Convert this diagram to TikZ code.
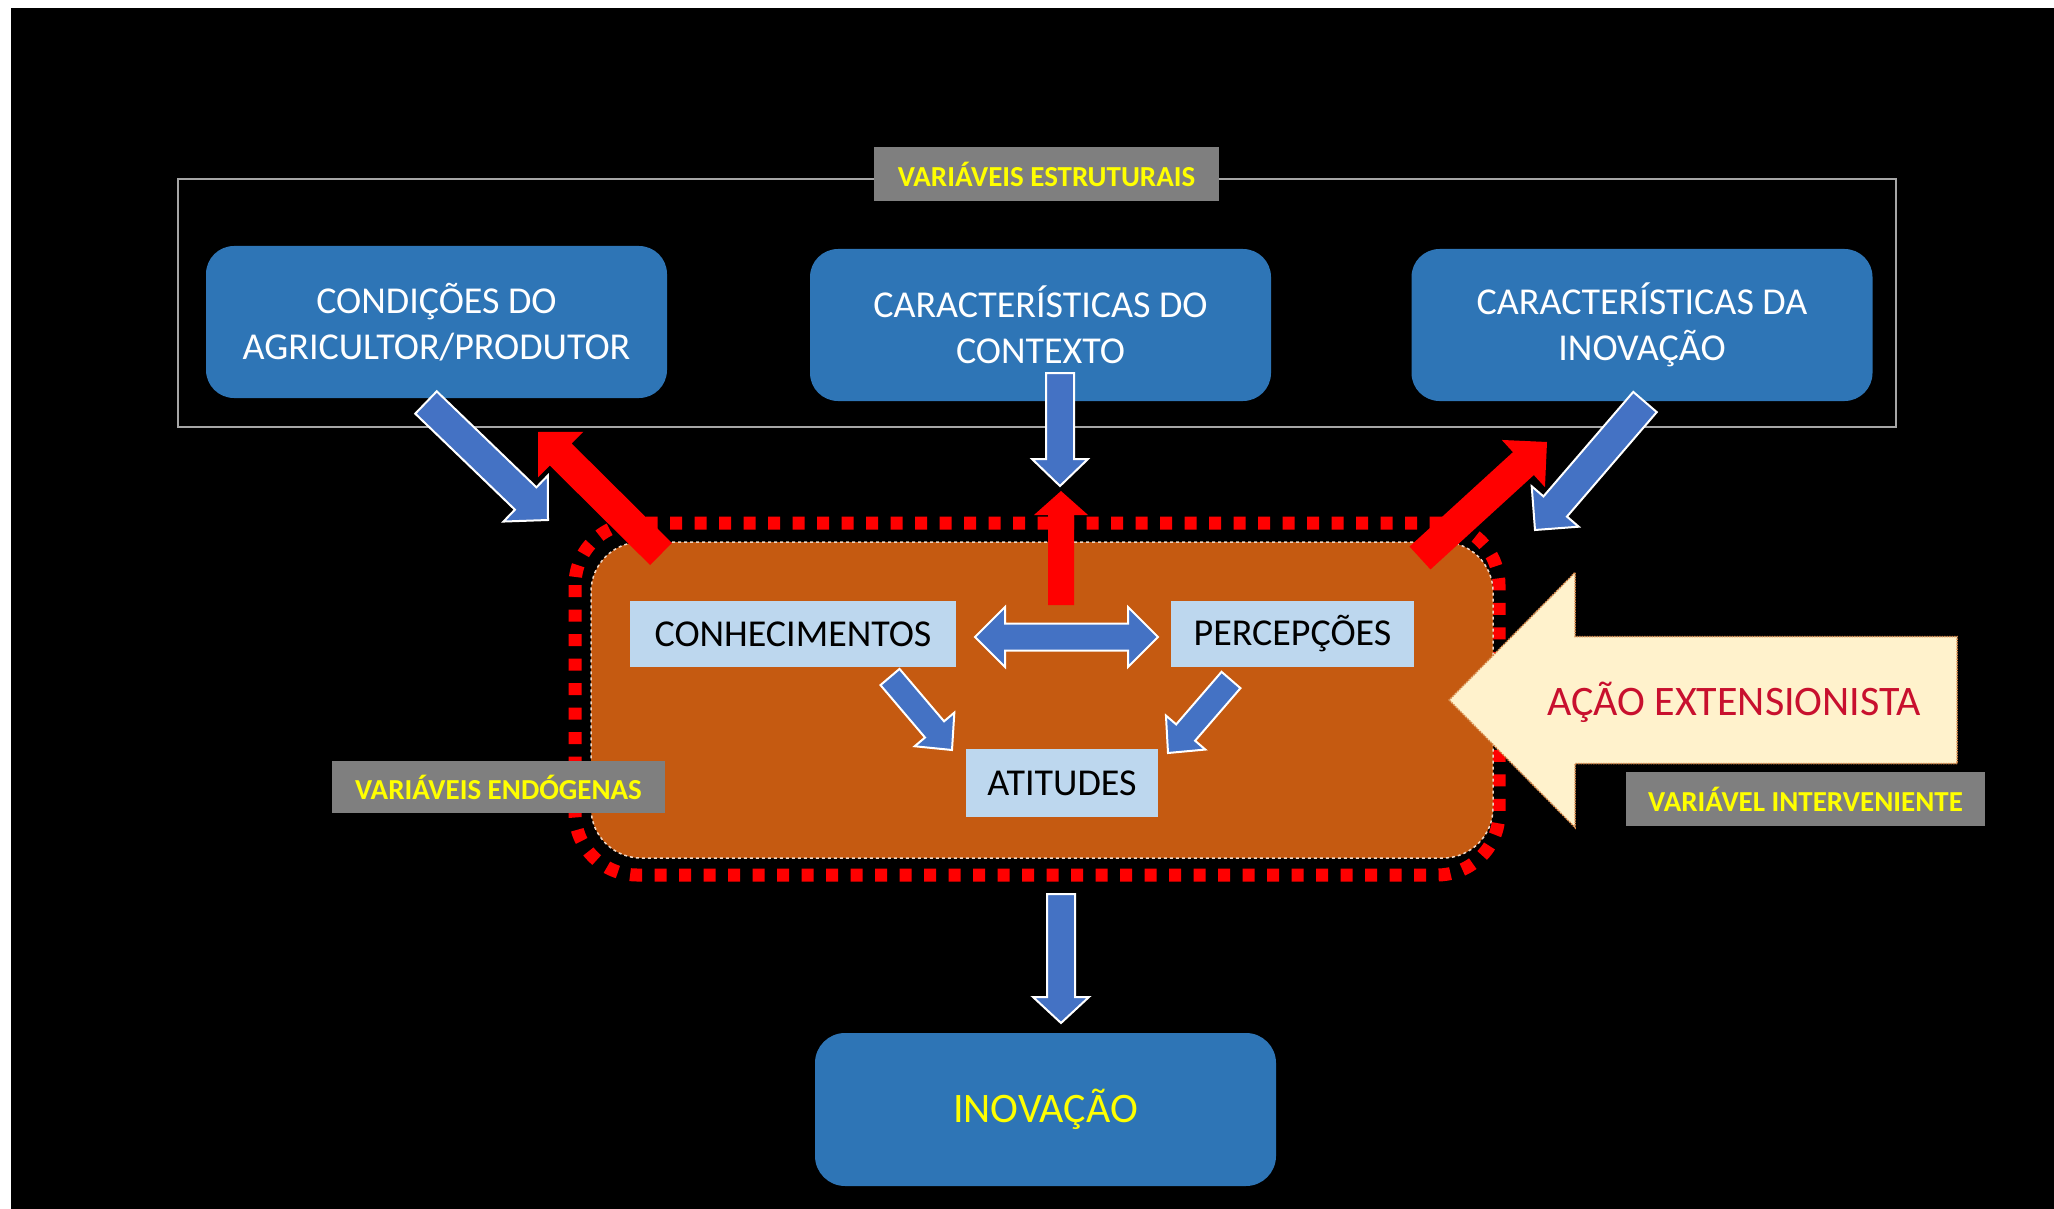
\documentclass[tikz,border=0pt]{standalone}
\usepackage{fontspec}
\setmainfont{Carlito}
\usetikzlibrary{calc}
\definecolor{boxblue}{HTML}{2E75B6}
\definecolor{arrblue}{HTML}{4472C4}
\definecolor{lblue}{HTML}{BDD7EE}
\definecolor{orng}{HTML}{C55A11}
\definecolor{tagray}{HTML}{7F7F7F}
\definecolor{cream}{HTML}{FFF2CC}
\definecolor{framegray}{HTML}{A6A6A6}
\definecolor{acred}{HTML}{C8102E}
\definecolor{ylw}{HTML}{FFFF00}
\newcommand\blockarrow[6]{%
  \coordinate (bac) at ($(#3)!#6!(#2)$);
  \path[#1] ($(#2)!#4!90:(#3)$) -- ($(bac)!#4!90:(#3)$) -- ($(bac)!#5!90:(#3)$) -- (#3)
    -- ($(bac)!#5!-90:(#3)$) -- ($(bac)!#4!-90:(#3)$) -- ($(#2)!#4!-90:(#3)$) -- cycle;}
\newcommand\dblarrow[6]{%
  \coordinate (dac) at ($(#2)!#6!(#3)$);
  \coordinate (dad) at ($(#3)!#6!(#2)$);
  \path[#1] (#2) -- ($(dac)!#5!90:(#3)$) -- ($(dac)!#4!90:(#3)$) -- ($(dad)!#4!90:(#3)$)
    -- ($(dad)!#5!90:(#3)$) -- (#3) -- ($(dad)!#5!-90:(#3)$) -- ($(dad)!#4!-90:(#3)$)
    -- ($(dac)!#4!-90:(#3)$) -- ($(dac)!#5!-90:(#3)$) -- cycle;}
\begin{document}
\begin{tikzpicture}[x=1pt,y=-1pt,
  topbox/.style={fill=boxblue, rounded corners=28pt, text=white, align=center,
    font=\fontsize{38pt}{46pt}\selectfont, inner sep=0pt, minimum width=461pt, minimum height=152pt},
  innerbox/.style={fill=lblue, text=black, font=\fontsize{38pt}{46pt}\selectfont, inner sep=0pt},
  tagbox/.style={fill=tagray, text=ylw, font=\bfseries\fontsize{29pt}{34pt}\selectfont, inner sep=0pt},
  bluearr/.style={fill=arrblue, draw=white, line width=2pt},
  redarr/.style={fill=red},
  acaoarr/.style={fill=cream, draw=orng!70!cream, line width=1.5pt, densely dotted},
]
\useasboundingbox (0,0) rectangle (2054,1209);
\fill[white] (0,0) rectangle (2054,1209);
\fill[black] (11,8) rectangle (2054,1209);

% frame of structural variables
\draw[framegray, line width=2pt] (178,179) rectangle (1896,427);

% top boxes
\node[topbox] (cond) at (436.5,322) {CONDIÇÕES DO\\AGRICULTOR/PRODUTOR};
\node[topbox] (ctx) at (1040.5,325) {CARACTERÍSTICAS DO\\CONTEXTO};
\node[topbox] (inov) at (1642,325) {CARACTERÍSTICAS DA\\INOVAÇÃO};
\node[tagbox, minimum width=345pt, minimum height=54pt] (ve) at (1046.5,174) {VARIÁVEIS ESTRUTURAIS};

% endogenous area
\draw[red, line width=13pt, dash pattern=on 12pt off 12.5pt, rounded corners=62pt] (575,523) rectangle (1499,875);
\node[fill=orng, draw=white!75!orng, dashed, line width=1.5pt, rounded corners=50pt,
  minimum width=902pt, minimum height=316pt] (endo) at (1042,700) {};

\node[innerbox, minimum width=326pt, minimum height=66pt] (conh) at (793,634) {CONHECIMENTOS};
\node[innerbox, minimum width=243pt, minimum height=66pt] (perc) at (1292.5,634) {PERCEPÇÕES};
\node[innerbox, minimum width=192pt, minimum height=68pt] (atit) at (1062,783) {ATITUDES};

% inner arrows
\coordinate (d1) at (975,637);
\coordinate (d2) at (1158,637);
\dblarrow{bluearr}{d1}{d2}{13.5pt}{30pt}{30pt}
\coordinate (l1) at (890,677);
\coordinate (l2) at (952,750);
\blockarrow{bluearr}{l1}{l2}{12.5pt}{26pt}{27pt}
\coordinate (r1) at (1231,680);
\coordinate (r2) at (1168,753);
\blockarrow{bluearr}{r1}{r2}{12.5pt}{26pt}{27pt}

% extension action arrow
\coordinate (ae1) at (1957,700);
\coordinate (ae2) at (1449,700);
\blockarrow{acaoarr}{ae1}{ae2}{63.5pt}{127.5pt}{126pt}
\node[text=acred, font=\fontsize{42pt}{50pt}\selectfont, inner sep=0pt] (acao) at (1734,702) {AÇÃO EXTENSIONISTA};

% red arrows (feedback)
\coordinate (ra1s) at (661,554);
\coordinate (ra1e) at (538,432);
\blockarrow{redarr}{ra1s}{ra1e}{15.5pt}{32pt}{32pt}
\coordinate (ra2s) at (1061,605);
\coordinate (ra2e) at (1061,491);
\blockarrow{redarr}{ra2s}{ra2e}{13pt}{27pt}{24pt}
\coordinate (ra3s) at (1420,558);
\coordinate (ra3e) at (1547,442);
\blockarrow{redarr}{ra3s}{ra3e}{15.5pt}{32pt}{32pt}

% blue arrows (influence)
\coordinate (ba1s) at (426,402.5);
\coordinate (ba1e) at (548,520);
\blockarrow{bluearr}{ba1s}{ba1e}{15.5pt}{32pt}{31pt}
\coordinate (ba2s) at (1060,373);
\coordinate (ba2e) at (1060,486);
\blockarrow{bluearr}{ba2s}{ba2e}{14pt}{28pt}{27pt}
\coordinate (ba3s) at (1645,402);
\coordinate (ba3e) at (1535,530);
\blockarrow{bluearr}{ba3s}{ba3e}{15.5pt}{31pt}{31pt}

% tags
\node[tagbox, minimum width=333pt, minimum height=52pt] (vend) at (498.5,787) {VARIÁVEIS ENDÓGENAS};
\node[tagbox, minimum width=359pt, minimum height=54pt] (vi) at (1805.5,799) {VARIÁVEL INTERVENIENTE};

% output
\node[fill=boxblue, rounded corners=30pt, text=ylw, font=\fontsize{42pt}{50pt}\selectfont,
  inner sep=0pt, minimum width=461pt, minimum height=153pt] (res) at (1045.5,1109.5) {INOVAÇÃO};
\coordinate (bos) at (1061,894);
\coordinate (boe) at (1061,1023);
\blockarrow{bluearr}{bos}{boe}{14pt}{28pt}{26pt}
\end{tikzpicture}
\end{document}
